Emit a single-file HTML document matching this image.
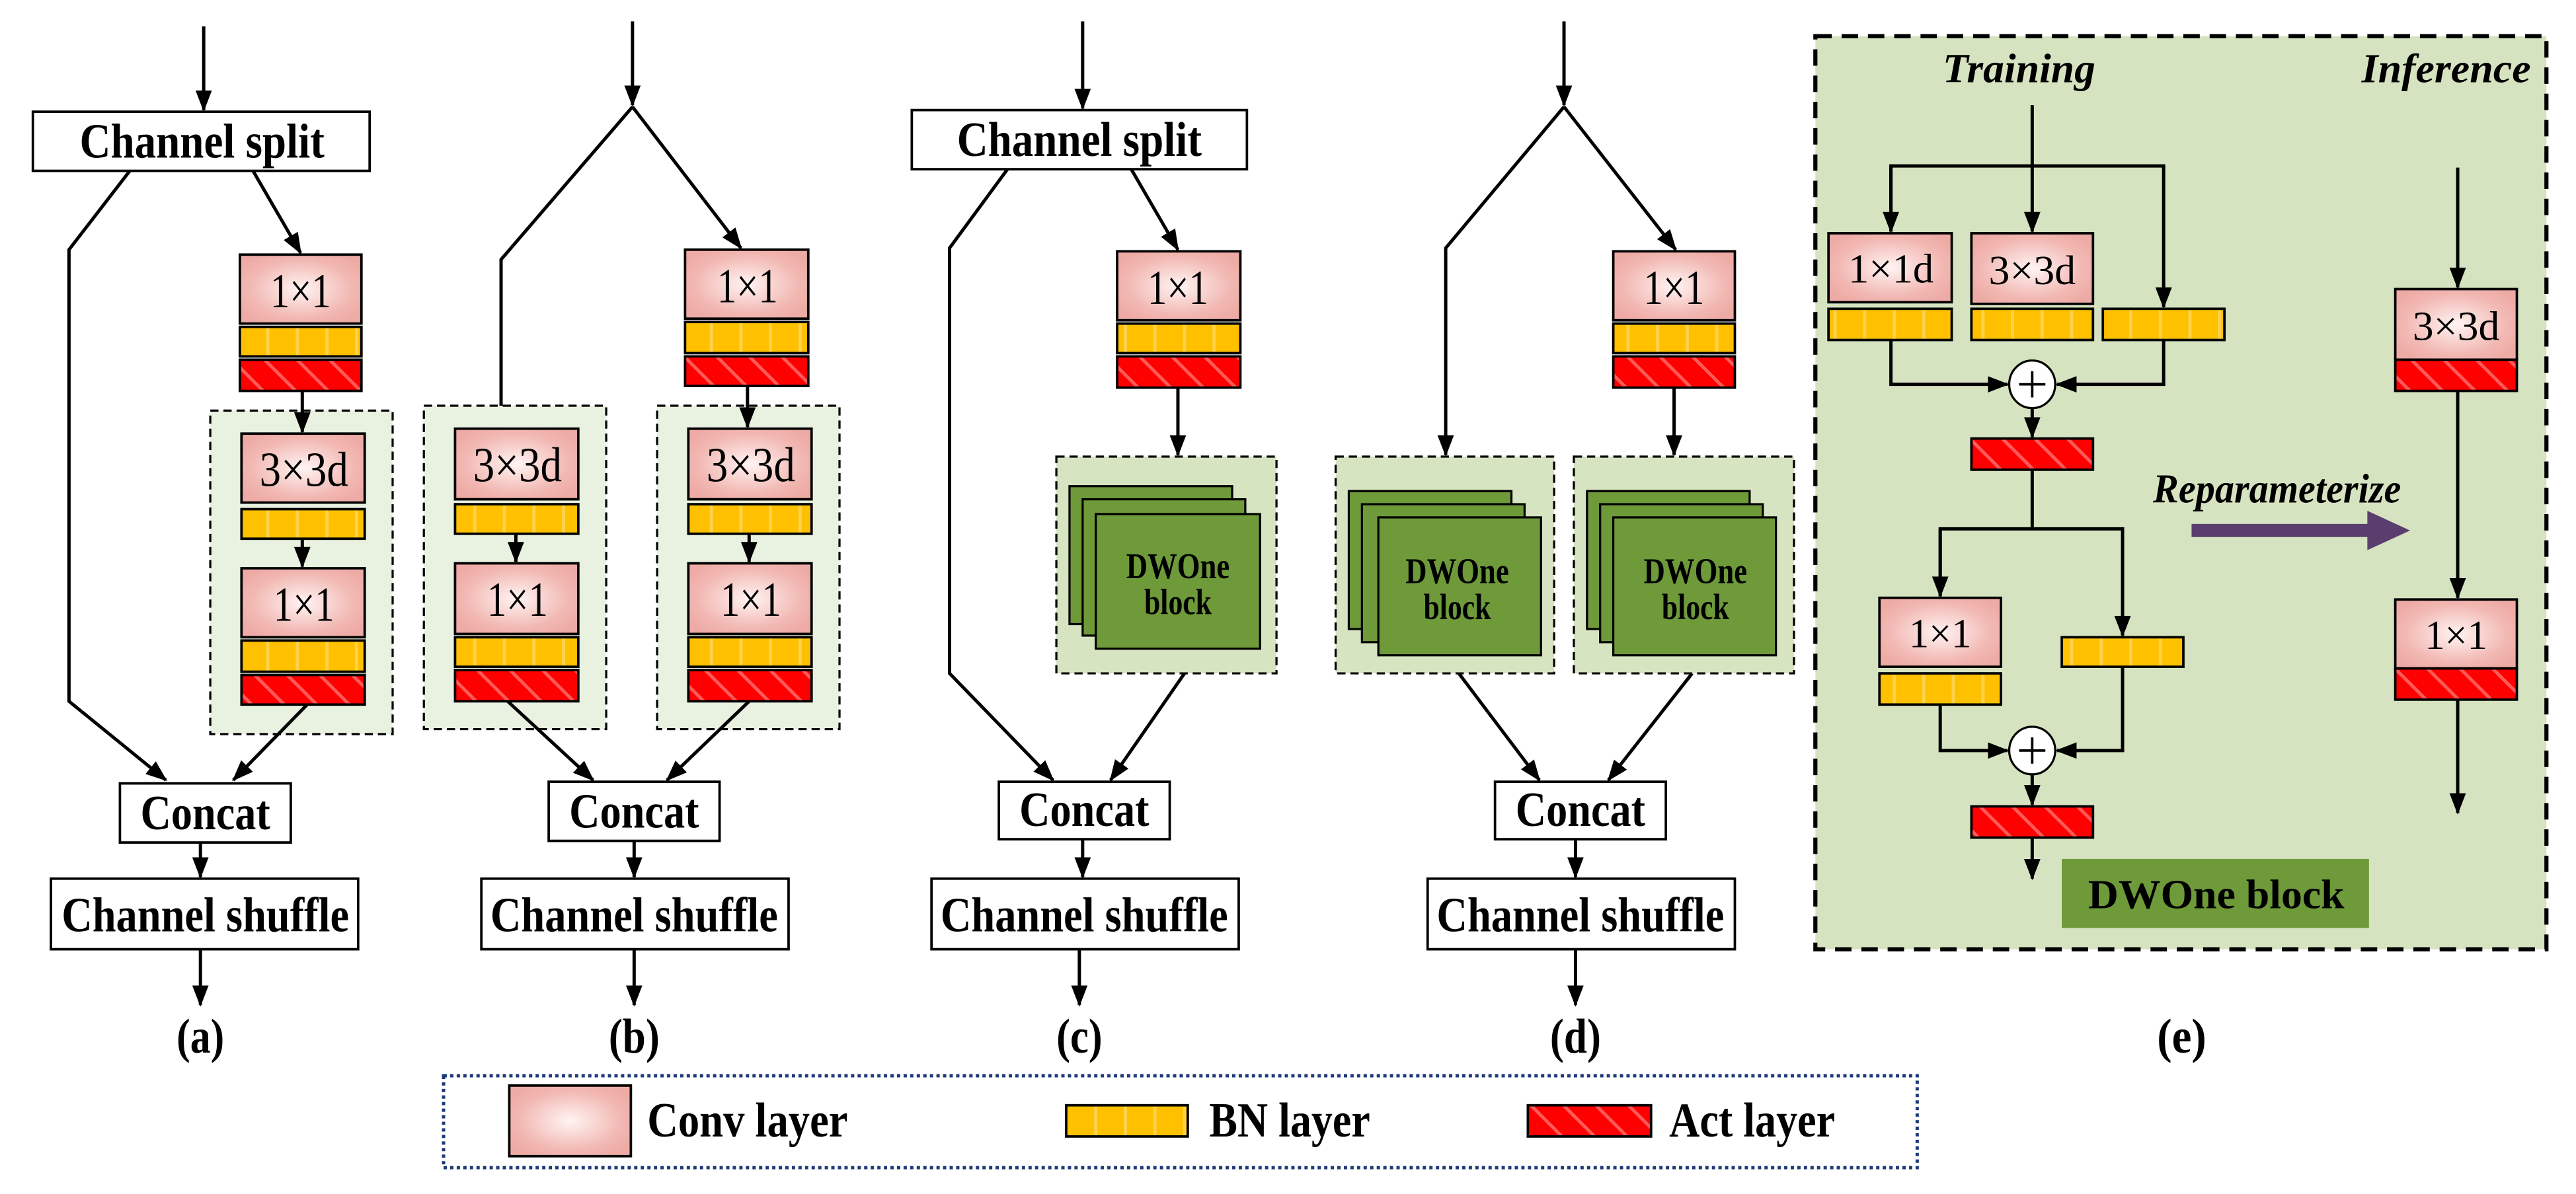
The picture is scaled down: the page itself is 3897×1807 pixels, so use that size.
<!DOCTYPE html>
<html><head><meta charset="utf-8"><style>
html,body{margin:0;padding:0;background:#fff;}
svg{display:block;}
text{font-family:"Liberation Serif",serif;}
</style></head><body>
<svg width="3897" height="1807" viewBox="0 0 1568 727" xmlns="http://www.w3.org/2000/svg">
<defs>
<marker id="ah" markerUnits="userSpaceOnUse" markerWidth="13" markerHeight="10" refX="12" refY="5" orient="auto"><path d="M0,0 L13,5 L0,10 z" fill="#000"/></marker>
<radialGradient id="cg" cx="50%" cy="50%" r="60%"><stop offset="0" stop-color="#fff4f3"/><stop offset="0.7" stop-color="#f2b8b3"/><stop offset="1" stop-color="#eeaaa4"/></radialGradient>
<pattern id="bnp" patternUnits="userSpaceOnUse" width="18" height="20"><rect width="18" height="20" fill="#ffc000"/><rect x="0" width="2" height="20" fill="#ffd24a"/></pattern>
<pattern id="acp" patternUnits="userSpaceOnUse" width="14" height="14" patternTransform="rotate(-45)"><rect width="14" height="14" fill="#ff0000"/><rect width="2" height="14" fill="#ff5a5a"/></pattern>
</defs>
<g stroke="#000" stroke-width="2" fill="none">
<!-- (a) -->
<line x1="124" y1="16" x2="124" y2="67" marker-end="url(#ah)"/>
<polyline points="79,104 42,152 42,427 101,475" marker-end="url(#ah)"/>
<line x1="154" y1="104" x2="183" y2="154" marker-end="url(#ah)"/>
<rect x="128" y="250" width="111" height="197" fill="#e9f1e1" stroke-dasharray="5 3" stroke-width="1.3"/>
<line x1="184" y1="238" x2="184" y2="263" marker-end="url(#ah)"/>
<line x1="184" y1="328" x2="184" y2="345" marker-end="url(#ah)"/>
<line x1="187" y1="429" x2="142" y2="475" marker-end="url(#ah)"/>
<line x1="122" y1="513" x2="122" y2="534" marker-end="url(#ah)"/>
<line x1="122" y1="578" x2="122" y2="612" marker-end="url(#ah)"/>
<!-- (b) -->
<line x1="385" y1="13" x2="385" y2="64" marker-end="url(#ah)"/>
<polyline points="385,65 305,158 305,260" marker-end="url(#ah)"/>
<line x1="385" y1="65" x2="451" y2="151" marker-end="url(#ah)"/>
<rect x="258" y="247" width="111" height="197" fill="#e9f1e1" stroke-dasharray="5 3" stroke-width="1.3"/>
<rect x="400" y="247" width="111" height="197" fill="#e9f1e1" stroke-dasharray="5 3" stroke-width="1.3"/>
<line x1="455" y1="235" x2="455" y2="260" marker-end="url(#ah)"/>
<line x1="314" y1="325" x2="314" y2="342" marker-end="url(#ah)"/>
<line x1="456" y1="325" x2="456" y2="342" marker-end="url(#ah)"/>
<line x1="309" y1="427" x2="361" y2="475" marker-end="url(#ah)"/>
<line x1="456" y1="427" x2="406" y2="475" marker-end="url(#ah)"/>
<line x1="386" y1="512" x2="386" y2="534" marker-end="url(#ah)"/>
<line x1="386" y1="578" x2="386" y2="612" marker-end="url(#ah)"/>
<!-- (c) -->
<line x1="659" y1="13" x2="659" y2="66" marker-end="url(#ah)"/>
<polyline points="614,102 578,151 578,410 641,475" marker-end="url(#ah)"/>
<line x1="688" y1="102" x2="717" y2="152" marker-end="url(#ah)"/>
<line x1="717" y1="236" x2="717" y2="277" marker-end="url(#ah)"/>
<rect x="643" y="278" width="134" height="132" fill="#d6e4c1" stroke-dasharray="5 3" stroke-width="1.3"/>
<line x1="721" y1="410" x2="676" y2="475" marker-end="url(#ah)"/>
<line x1="659" y1="511" x2="659" y2="534" marker-end="url(#ah)"/>
<line x1="657" y1="578" x2="657" y2="612" marker-end="url(#ah)"/>
<!-- (d) -->
<line x1="952" y1="13" x2="952" y2="64" marker-end="url(#ah)"/>
<polyline points="952,65 880,151 880,277" marker-end="url(#ah)"/>
<line x1="952" y1="65" x2="1020" y2="152" marker-end="url(#ah)"/>
<line x1="1019" y1="236" x2="1019" y2="277" marker-end="url(#ah)"/>
<rect x="813" y="278" width="133" height="132" fill="#d6e4c1" stroke-dasharray="5 3" stroke-width="1.3"/>
<rect x="958" y="278" width="134" height="132" fill="#d6e4c1" stroke-dasharray="5 3" stroke-width="1.3"/>
<line x1="888" y1="410" x2="937" y2="475" marker-end="url(#ah)"/>
<line x1="1030" y1="410" x2="979" y2="475" marker-end="url(#ah)"/>
<line x1="959" y1="511" x2="959" y2="534" marker-end="url(#ah)"/>
<line x1="959" y1="578" x2="959" y2="612" marker-end="url(#ah)"/>
<!-- (e) -->
<rect x="1105" y="22" width="445" height="556" fill="#d6e3c1" stroke-width="2.5" stroke-dasharray="10 6"/>
<line x1="1237" y1="64" x2="1237" y2="141" marker-end="url(#ah)"/>
<polyline points="1151,141 1151,101 1317,101 1317,187" marker-end="url(#ah)"/>
<line x1="1151" y1="101" x2="1151" y2="141" marker-end="url(#ah)"/>
<polyline points="1151,207 1151,234 1222,234" marker-end="url(#ah)"/>
<polyline points="1317,207 1317,234 1252,234" marker-end="url(#ah)"/>
<line x1="1237" y1="249" x2="1237" y2="266" marker-end="url(#ah)"/>
<line x1="1237" y1="286" x2="1237" y2="322"/>
<polyline points="1181,363 1181,322 1292,322 1292,387" marker-end="url(#ah)"/>
<line x1="1181" y1="322" x2="1181" y2="363" marker-end="url(#ah)"/>
<polyline points="1181,429 1181,457 1222,457" marker-end="url(#ah)"/>
<polyline points="1292,406 1292,457 1252,457" marker-end="url(#ah)"/>
<line x1="1237" y1="472" x2="1237" y2="490" marker-end="url(#ah)"/>
<line x1="1237" y1="510" x2="1237" y2="535" marker-end="url(#ah)"/>
<line x1="1496" y1="102" x2="1496" y2="175" marker-end="url(#ah)"/>
<line x1="1496" y1="238" x2="1496" y2="364" marker-end="url(#ah)"/>
<line x1="1496" y1="426" x2="1496" y2="495" marker-end="url(#ah)"/>
<ellipse cx="1237" cy="234" rx="14" ry="14.5" fill="#fff" stroke-width="1.3"/>
<ellipse cx="1237" cy="457" rx="14" ry="14.5" fill="#fff" stroke-width="1.3"/>
<path d="M1229,234 H1245 M1237,226 V242 M1229,457 H1245 M1237,449 V465" stroke-width="1.5"/>
<g stroke-width="1.5" fill="#fff">
<rect x="20" y="68" width="205" height="36"/>
<rect x="73" y="477" width="104" height="36"/>
<rect x="31" y="535" width="187" height="43"/>
<rect x="334" y="476" width="104" height="36"/>
<rect x="293" y="535" width="187" height="43"/>
<rect x="555" y="67" width="204" height="36"/>
<rect x="608" y="476" width="104" height="35"/>
<rect x="567" y="535" width="187" height="43"/>
<rect x="910" y="476" width="104" height="35"/>
<rect x="869" y="535" width="187" height="43"/>
</g>
<g stroke-width="1.5" fill="url(#cg)">
<rect x="146" y="155" width="74" height="42"/>
<rect x="147" y="264" width="75" height="42"/>
<rect x="147" y="346" width="75" height="42"/>
<rect x="417" y="152" width="75" height="42"/>
<rect x="277" y="261" width="75" height="43"/>
<rect x="277" y="343" width="75" height="43"/>
<rect x="419" y="261" width="75" height="43"/>
<rect x="419" y="343" width="75" height="43"/>
<rect x="680" y="153" width="75" height="42"/>
<rect x="982" y="153" width="74" height="42"/>
<rect x="1113" y="142" width="75" height="42"/>
<rect x="1200" y="142" width="74" height="43"/>
<rect x="1144" y="364" width="74" height="42"/>
<rect x="1458" y="176" width="74" height="43"/>
<rect x="1458" y="365" width="74" height="42"/>
<rect x="310" y="661" width="74" height="43"/>
</g>
<g stroke-width="1.5" fill="url(#bnp)">
<rect x="146" y="199" width="74" height="18"/>
<rect x="147" y="310" width="75" height="18"/>
<rect x="147" y="390" width="75" height="19"/>
<rect x="417" y="196" width="75" height="19"/>
<rect x="277" y="307" width="75" height="18"/>
<rect x="277" y="388" width="75" height="18"/>
<rect x="419" y="307" width="75" height="18"/>
<rect x="419" y="388" width="75" height="18"/>
<rect x="680" y="197" width="75" height="18"/>
<rect x="982" y="197" width="74" height="18"/>
<rect x="1113" y="188" width="75" height="19"/>
<rect x="1200" y="188" width="74" height="19"/>
<rect x="1280" y="188" width="74" height="19"/>
<rect x="1144" y="410" width="74" height="19"/>
<rect x="1255" y="388" width="74" height="18"/>
<rect x="649" y="673" width="74" height="19"/>
</g>
<g stroke-width="1.5" fill="url(#acp)">
<rect x="146" y="219" width="74" height="19"/>
<rect x="147" y="411" width="75" height="18"/>
<rect x="417" y="217" width="75" height="18"/>
<rect x="277" y="408" width="75" height="19"/>
<rect x="419" y="408" width="75" height="19"/>
<rect x="680" y="217" width="75" height="19"/>
<rect x="982" y="217" width="74" height="19"/>
<rect x="1200" y="267" width="74" height="19"/>
<rect x="1200" y="491" width="74" height="19"/>
<rect x="1458" y="219" width="74" height="19"/>
<rect x="1458" y="407" width="74" height="19"/>
<rect x="930" y="673" width="75" height="19"/>
</g>
<g stroke-width="1.3" fill="#6e9a3a">
<rect x="651" y="296" width="99" height="84"/><rect x="659" y="304" width="99" height="83"/><rect x="667" y="313" width="100" height="82"/>
<rect x="821" y="299" width="99" height="84"/><rect x="829" y="307" width="99" height="84"/><rect x="839" y="315" width="99" height="84"/>
<rect x="966" y="299" width="99" height="84"/><rect x="974" y="307" width="99" height="84"/><rect x="982" y="315" width="99" height="84"/>
</g>
<rect x="1255" y="523" width="187" height="42" fill="#6e9a3a" stroke="none"/>
<rect x="270" y="655" width="897" height="56" stroke="#1f3a78" stroke-width="2" stroke-dasharray="2 2"/>
</g>
<path d="M1334,319 H1441 V311 L1467,323 L1441,335 V327 H1334 z" fill="#5a3f6e"/>
<g font-weight="bold" text-anchor="middle" font-size="30">
<text x="123" y="96" textLength="149" lengthAdjust="spacingAndGlyphs">Channel split</text>
<text x="657" y="95" textLength="149" lengthAdjust="spacingAndGlyphs">Channel split</text>
<text x="125" y="505" textLength="79" lengthAdjust="spacingAndGlyphs">Concat</text>
<text x="386" y="504" textLength="79" lengthAdjust="spacingAndGlyphs">Concat</text>
<text x="660" y="503" textLength="79" lengthAdjust="spacingAndGlyphs">Concat</text>
<text x="962" y="503" textLength="79" lengthAdjust="spacingAndGlyphs">Concat</text>
<text x="125" y="567" textLength="175" lengthAdjust="spacingAndGlyphs">Channel shuffle</text>
<text x="386" y="567" textLength="175" lengthAdjust="spacingAndGlyphs">Channel shuffle</text>
<text x="660" y="567" textLength="175" lengthAdjust="spacingAndGlyphs">Channel shuffle</text>
<text x="962" y="567" textLength="175" lengthAdjust="spacingAndGlyphs">Channel shuffle</text>
<text x="122" y="641" textLength="29" lengthAdjust="spacingAndGlyphs">(a)</text>
<text x="386" y="641" textLength="31" lengthAdjust="spacingAndGlyphs">(b)</text>
<text x="657" y="641" textLength="28" lengthAdjust="spacingAndGlyphs">(c)</text>
<text x="959" y="641" textLength="31" lengthAdjust="spacingAndGlyphs">(d)</text>
<text x="1328" y="641" textLength="30" lengthAdjust="spacingAndGlyphs">(e)</text>
<g font-size="22">
<text x="717" y="352" textLength="63" lengthAdjust="spacingAndGlyphs">DWOne</text>
<text x="717" y="374" textLength="41" lengthAdjust="spacingAndGlyphs">block</text>
<text x="887" y="355" textLength="63" lengthAdjust="spacingAndGlyphs">DWOne</text>
<text x="887" y="377" textLength="41" lengthAdjust="spacingAndGlyphs">block</text>
<text x="1032" y="355" textLength="63" lengthAdjust="spacingAndGlyphs">DWOne</text>
<text x="1032" y="377" textLength="41" lengthAdjust="spacingAndGlyphs">block</text>
</g>
<text x="1349" y="553" font-size="25" textLength="156" lengthAdjust="spacingAndGlyphs">DWOne block</text>
<g font-style="italic" font-size="25">
<text x="1229" y="50" textLength="93" lengthAdjust="spacingAndGlyphs">Training</text>
<text x="1489" y="50" textLength="103" lengthAdjust="spacingAndGlyphs">Inference</text>
<text x="1386" y="306" textLength="151" lengthAdjust="spacingAndGlyphs">Reparameterize</text>
</g>
</g>
<g font-size="30" text-anchor="middle">
<text x="183" y="187" textLength="37" lengthAdjust="spacingAndGlyphs">1×1</text>
<text x="185" y="296" textLength="54" lengthAdjust="spacingAndGlyphs">3×3d</text>
<text x="185" y="378" textLength="37" lengthAdjust="spacingAndGlyphs">1×1</text>
<text x="455" y="184" textLength="37" lengthAdjust="spacingAndGlyphs">1×1</text>
<text x="315" y="293" textLength="54" lengthAdjust="spacingAndGlyphs">3×3d</text>
<text x="315" y="375" textLength="37" lengthAdjust="spacingAndGlyphs">1×1</text>
<text x="457" y="293" textLength="54" lengthAdjust="spacingAndGlyphs">3×3d</text>
<text x="457" y="375" textLength="37" lengthAdjust="spacingAndGlyphs">1×1</text>
<text x="717" y="185" textLength="37" lengthAdjust="spacingAndGlyphs">1×1</text>
<text x="1019" y="185" textLength="37" lengthAdjust="spacingAndGlyphs">1×1</text>
<g font-size="25">
<text x="1151" y="172" textLength="52" lengthAdjust="spacingAndGlyphs">1×1d</text>
<text x="1237" y="173" textLength="53" lengthAdjust="spacingAndGlyphs">3×3d</text>
<text x="1181" y="394" textLength="38" lengthAdjust="spacingAndGlyphs">1×1</text>
<text x="1495" y="207" textLength="53" lengthAdjust="spacingAndGlyphs">3×3d</text>
<text x="1495" y="395" textLength="38" lengthAdjust="spacingAndGlyphs">1×1</text>
</g>
</g>
<g font-weight="bold" font-size="30">
<text x="394" y="692" textLength="122" lengthAdjust="spacingAndGlyphs">Conv layer</text>
<text x="736" y="692" textLength="98" lengthAdjust="spacingAndGlyphs">BN layer</text>
<text x="1016" y="692" textLength="101" lengthAdjust="spacingAndGlyphs">Act layer</text>
</g>
</svg>
</body></html>
